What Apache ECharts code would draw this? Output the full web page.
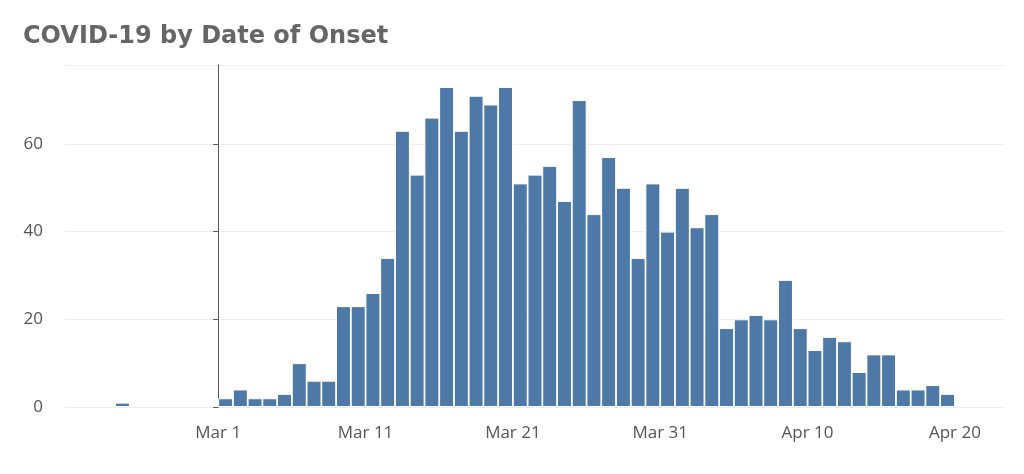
<!DOCTYPE html>
<html>
<head>
  <meta charset="UTF-8">
  <title>COVID-19 by Date of Onset</title>
  <script src="https://cdn.jsdelivr.net/npm/echarts@6.0.0/dist/echarts.min.js"></script>
  <style>
    body { margin: 0; }
    #chart { width: 1024px; height: 474px; }
  </style>
</head>
<body>
  <div id="chart"></div>
  <script>
    // cases per onset day; day 0 = Mar 1
    const cases = [
      [-7, 1],
      [0, 2], [1, 4], [2, 2], [3, 2], [4, 3], [5, 10], [6, 6], [7, 6], [8, 23], [9, 23],
      [10, 26], [11, 34], [12, 63], [13, 53], [14, 66], [15, 73], [16, 63], [17, 71], [18, 69], [19, 73],
      [20, 51], [21, 53], [22, 55], [23, 47], [24, 70], [25, 44], [26, 57], [27, 50], [28, 34], [29, 51],
      [30, 40], [31, 50], [32, 41], [33, 44], [34, 18], [35, 20], [36, 21], [37, 20], [38, 29], [39, 18],
      [40, 13], [41, 16], [42, 15], [43, 8], [44, 12], [45, 12], [46, 4], [47, 4], [48, 5], [49, 3]
    ];
    const tickNames = { 0: 'Mar 1', 10: 'Mar 11', 20: 'Mar 21', 30: 'Mar 31', 40: 'Apr 10', 50: 'Apr 20' };

    const chart = echarts.init(document.getElementById('chart'));
    chart.setOption({
      animation: false,
      title: {
        text: 'COVID-19 by Date of Onset',
        left: 18, top: 20,
        textStyle: { fontFamily: 'DejaVu Sans', fontWeight: 'bold', fontSize: 24, color: '#666' }
      },
      grid: { left: 65, right: 19, top: 65, bottom: 67 },
      xAxis: {
        type: 'value',
        min: -10.4, max: 53.4,
        axisLine: { show: false },
        splitLine: { show: false },
        axisTick: { show: false },
        axisLabel: {
          customValues: [0, 10, 20, 30, 40, 50],
          formatter: v => tickNames[Math.round(v)] || '',
          fontSize: 17, color: '#555', fontFamily: 'Open Sans', margin: 18
        }
      },
      yAxis: {
        type: 'value',
        min: 0, max: 78, interval: 20,
        axisLabel: { fontSize: 17, color: '#555', fontFamily: 'Open Sans', showMaxLabel: false, margin: 22 },
        splitLine: { lineStyle: { color: '#eee' } }
      },
      series: [{
        type: 'bar',
        barWidth: 15,
        data: cases.map(d => [d[0] + 0.5, d[1]]),
        itemStyle: { color: '#4e79a7', borderColor: '#fff', borderWidth: 1 }
      }]
    });
  </script>
</body>
</html>
